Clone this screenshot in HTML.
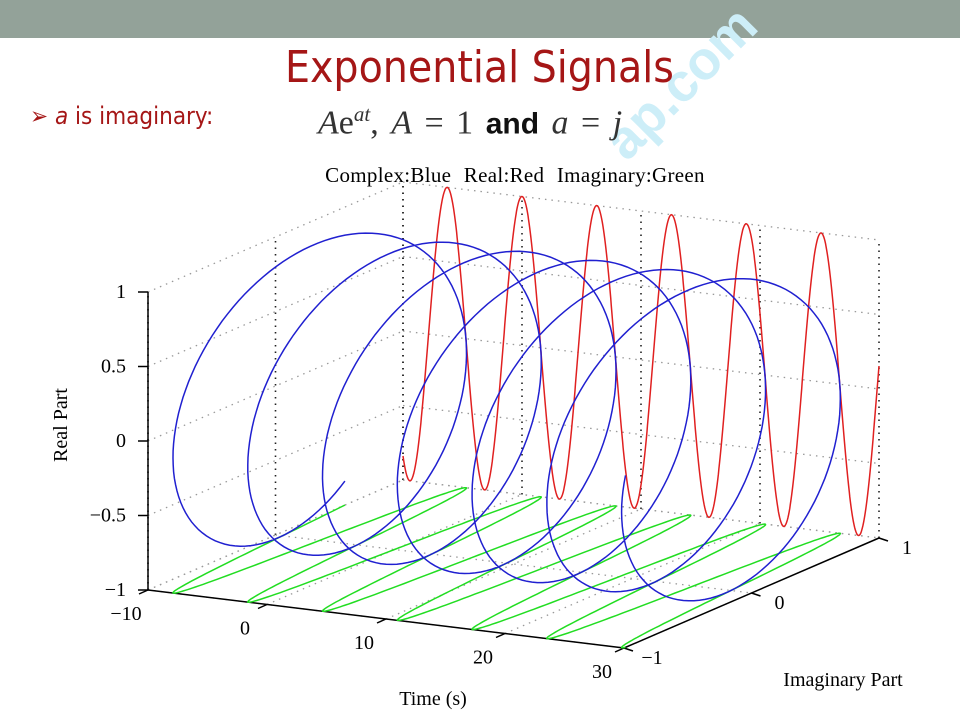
<!DOCTYPE html>
<html><head><meta charset="utf-8"><style>
body{margin:0;width:960px;height:720px;overflow:hidden;background:#fff;position:relative;font-family:"Liberation Sans",sans-serif}
.hdr{position:absolute;left:0;top:0;width:960px;height:38px;background:#93a299}
.t{position:absolute;white-space:nowrap}
</style></head><body>
<div class="hdr"></div>
<div class="t" style="left:592px;top:128px;transform:rotate(-45deg);transform-origin:left top;color:#cdeef8;font-size:54px;font-weight:bold">ap.com</div>
<div class="t" style="left:285px;top:42px;color:#a51616;font-size:44px;font-family:'DejaVu Sans Condensed','Liberation Sans Narrow',sans-serif;">Exponential Signals</div>
<div class="t" style="left:30px;top:102px;color:#a51616;font-size:24px;font-family:'DejaVu Sans Condensed','Liberation Sans Narrow',sans-serif;">➢ <i>a</i> is imaginary:</div>
<div class="t" style="left:318px;top:102px;font-size:34px;font-family:'Liberation Serif',serif;color:#333;word-spacing:4px"><i>A</i>e<sup style="font-size:21px"><i>at</i></sup>, <i>A</i> = 1 <b style="font-family:'Liberation Sans',sans-serif;color:#111;font-size:30px">and</b> <i>a</i> = <i>j</i></div>
<svg width="960" height="720" style="position:absolute;left:0;top:0" id="s" font-family="Liberation Serif,serif" font-size="20">
<text x="515" y="182" text-anchor="middle" font-size="21" word-spacing="7" letter-spacing="0.3">Complex:Blue  Real:Red  Imaginary:Green</text>
<text x="433" y="705" text-anchor="middle">Time (s)</text>
<text x="843" y="686" text-anchor="middle">Imaginary Part</text>
<text x="0" y="0" text-anchor="middle" transform="translate(67,425) rotate(-90)">Real Part</text>
<g id="g"></g>
</svg>
<script>
function P(t,im,re){return [148+(t+10)*11.9+(im+1)*127.5, 590+(t+10)*1.45-(im+1)*55-(re+1)*149];}
var g=document.getElementById('g'),h='';
function L(a,b,st){h+='<line x1="'+a[0]+'" y1="'+a[1]+'" x2="'+b[0]+'" y2="'+b[1]+'" '+st+'/>';}
var dg='stroke="#999" stroke-width="1.3" stroke-dasharray="1.5 5"',dk='stroke="#222" stroke-width="1.6" stroke-dasharray="1.5 5"';
var re=[-1,-0.5,0,0.5,1],ts=[-10,0,10,20,30],ims=[-1,0,1];
re.forEach(function(r){L(P(-10,-1,r),P(-10,1,r),dg);L(P(-10,1,r),P(30,1,r),dg);});
ts.forEach(function(t){L(P(t,1,-1),P(t,1,1),dk);L(P(t,-1,-1),P(t,1,-1),dg);});
ims.forEach(function(i){L(P(-10,i,-1),P(-10,i,1),dk);L(P(-10,i,-1),P(30,i,-1),dg);});
var ax='stroke="#000" stroke-width="1.5"';
L(P(-10,-1,-1),P(-10,-1,1),ax);L(P(-10,-1,-1),P(30,-1,-1),ax);L(P(30,-1,-1),P(30,1,-1),ax);
re.forEach(function(r){var p=P(-10,-1,r);L(p,[p[0]-10,p[1]],ax);h+='<text x="'+(p[0]-22)+'" y="'+(p[1]+6)+'" text-anchor="end">'+(r<0?'\u2212'+(-r):r)+'</text>';});
ts.forEach(function(t){var p=P(t,-1,-1);L(p,[p[0]-9,p[1]+4],ax);h+='<text x="'+(p[0]-22)+'" y="'+(p[1]+30)+'" text-anchor="middle">'+(t<0?'\u2212'+(-t):t)+'</text>';});
ims.forEach(function(i){var p=P(30,i,-1);L(p,[p[0]+9,p[1]+3],ax);h+='<text x="'+(p[0]+28)+'" y="'+(p[1]+16)+'" text-anchor="middle">'+(i<0?'\u2212'+(-i):i)+'</text>';});
function curve(f,c){var d='';for(var t=-10;t<=30.0001;t+=0.05){var p=f(t);d+=(d?'L':'M')+p[0].toFixed(1)+' '+p[1].toFixed(1);}h+='<path d="'+d+'" fill="none" stroke="'+c+'" stroke-width="1.5"/>';}
curve(function(t){return P(t,Math.sin(t),-1);},'#22dd22');
curve(function(t){return P(t,1,Math.cos(t));},'#e02020');
curve(function(t){return P(t,Math.sin(t),Math.cos(t));},'#2020d0');
g.innerHTML=h;
</script>
</body></html>
